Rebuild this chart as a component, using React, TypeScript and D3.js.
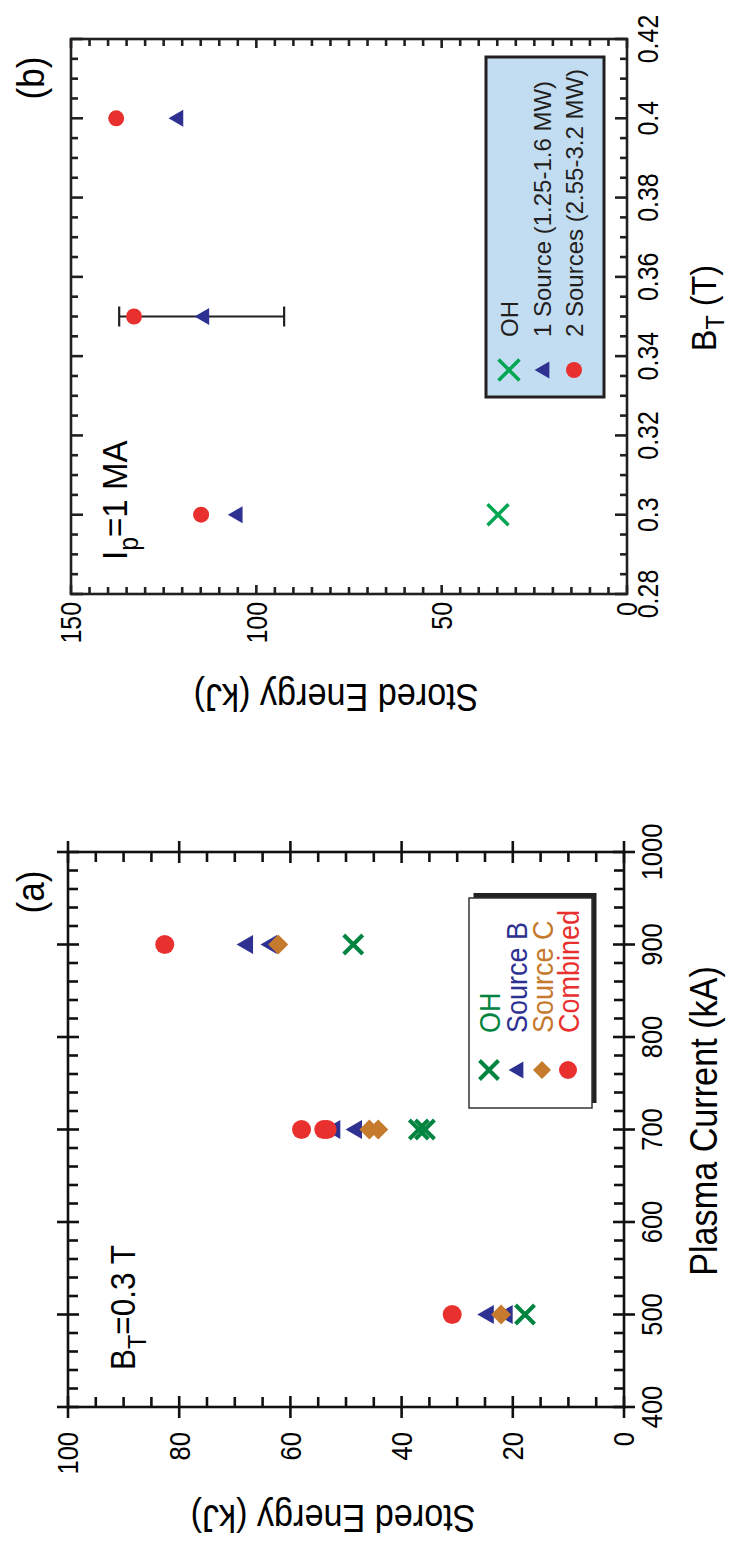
import React, { useEffect, useRef } from "react";
import * as d3 from "d3";

const W = 729;
const H = 1543;
const FONT = "'Liberation Sans', Arial, Helvetica, sans-serif";

// panel (a): B_T = 0.3 T, stored energy (kJ) vs plasma current (kA)
const currentTicks = [400, 500, 600, 700, 800, 900, 1000];
const energyTicksA = [0, 20, 40, 60, 80, 100];
const ohA = [[500, 17.8], [700, 36.9], [700, 35.8], [900, 48.7]];
const sourceBA = [[500, 24.9], [500, 21.5], [700, 52.5], [700, 48.6], [900, 68.2], [900, 63.9]];
const sourceCA = [[500, 22.1], [700, 45.8], [700, 44.2], [900, 62.2]];
const combinedA = [[500, 30.9], [700, 58.0], [700, 54.0], [700, 53.4], [900, 82.6]];
const legendA = ["OH", "Source B", "Source C", "Combined"];

// panel (b): I_p = 1 MA, stored energy (kJ) vs B_T (T)
const fieldTicks = [0.28, 0.3, 0.32, 0.34, 0.36, 0.38, 0.4, 0.42];
const energyTicksB = [0, 50, 100, 150];
const ohB = [[0.3, 34.8]];
const oneSourceB = [[0.3, 105.7], [0.35, 114.7], [0.4, 121.7]];
const twoSourcesB = [[0.3, 114.9], [0.35, 133.0], [0.4, 137.8]];
const errorBarsB = [[0.35, 92.5, 137.0]];
const legendB = ["OH", "1 Source (1.25-1.6 MW)", "2 Sources (2.55-3.2 MW)"];

const GREEN_A = "#00843f";
const GREEN_B = "#00a651";
const BLUE = "#2e3192";
const ORANGE = "#c67a2d";
const RED = "#e8312f";

const triPath = (s) => {
  const h = s * 0.866;
  return `M0,${-h / 2}L${s / 2},${h / 2}L${-s / 2},${h / 2}Z`;
};
const diamondPath = (d) => `M0,${-d}L${d},0L0,${d}L${-d},0Z`;
const crossPath = (a) => `M${-a},${-a}L${a},${a}M${-a},${a}L${a},${-a}`;

function text(g, str, x, y, o: any = {}) {
  const t = g
    .append("text")
    .attr("transform", `translate(${x},${y}) rotate(${o.rot || 0}) scale(${o.sx ?? 0.9},1)`)
    .attr("font-family", FONT)
    .attr("font-size", o.size || 29)
    .attr("fill", o.fill || "#000")
    .attr("text-anchor", o.anchor || "start");
  if (o.dy) t.attr("dy", o.dy);
  if (str !== null) t.text(str);
  return t;
}

// frame with ticks on all four sides
function frame(g, x, y, o) {
  const [u0, u1] = x.range();
  const [v1, v0] = y.range();
  const line = (a, b, c, d) =>
    g.append("line").attr("x1", a).attr("y1", b).attr("x2", c).attr("y2", d)
      .attr("stroke", o.color).attr("stroke-width", o.lw);
  const xMaj = o.xMajor.map((d) => x(d));
  const yMaj = o.yMajor.map((d) => y(d));
  const near = (arr, p) => arr.some((q) => Math.abs(q - p) < 0.5);
  x.ticks(o.xMinorCount).forEach((d) => {
    const u = x(d);
    const major = near(xMaj, u);
    const inn = major ? o.xIn : o.minorIn;
    const out = major ? o.out : 0;
    line(u, v1 + out, u, v1 - inn);
    line(u, v0 - out, u, v0 + inn);
  });
  y.ticks(o.yMinorCount).forEach((d) => {
    const v = y(d);
    const major = near(yMaj, v);
    const inn = major ? o.yIn : o.minorIn;
    const out = major ? o.out : 0;
    line(u0 - out, v, u0 + inn, v);
    line(u1 + out, v, u1 - inn, v);
  });
  g.append("rect").attr("x", u0).attr("y", v0).attr("width", u1 - u0).attr("height", v1 - v0)
    .attr("fill", "none").attr("stroke", o.color).attr("stroke-width", o.lw);
}

function markers(g, pts, x, y, kind, color, size, sw = 4) {
  const sel = g.selectAll(null).data(pts).join("path")
    .attr("transform", (d) => `translate(${x(d[0])},${y(d[1])})`);
  if (kind === "x") {
    sel.attr("d", crossPath(size)).attr("fill", "none").attr("stroke", color).attr("stroke-width", sw);
  } else if (kind === "tri") {
    sel.attr("d", triPath(size)).attr("fill", color);
  } else if (kind === "dia") {
    sel.attr("d", diamondPath(size)).attr("fill", color);
  } else {
    sel.attr("d", d3.symbol(d3.symbolCircle, Math.PI * size * size)()).attr("fill", color);
  }
}

export default function App() {
  const svgRef = useRef(null);

  useEffect(() => {
    const svg = d3.select(svgRef.current);
    svg.selectAll("*").remove();
    // the figure is drawn landscape and turned a quarter turn counter-clockwise
    const root = svg.append("g").attr("transform", `translate(0,${H}) rotate(-90)`);

    // ---------- panel (a) ----------
    const gA = root.append("g");
    const xA = d3.scaleLinear().domain([400, 1000]).range([136, 691]);
    const yA = d3.scaleLinear().domain([0, 100]).range([624, 68]);

    markers(gA, ohA, xA, yA, "x", GREEN_A, 9.5, 4);
    markers(gA, sourceBA, xA, yA, "tri", BLUE, 19);
    markers(gA, sourceCA, xA, yA, "dia", ORANGE, 10);
    markers(gA, combinedA, xA, yA, "circle", RED, 9.5);

    frame(gA, xA, yA, {
      color: "#111", lw: 2.6, xMajor: currentTicks, yMajor: energyTicksA,
      xMinorCount: 30, yMinorCount: 20, xIn: 11, yIn: 11, out: 11, minorIn: 10,
    });

    currentTicks.forEach((d) => text(gA, String(d), xA(d), 662, { anchor: "middle", size: 29, sx: 0.88 }));
    energyTicksA.forEach((d) => text(gA, String(d), 111, yA(d), { anchor: "end", size: 29, sx: 0.88, dy: "0.36em" }));

    text(gA, "Plasma Current (kA)", 422, 717, { anchor: "middle", size: 38, sx: 0.9 });
    text(gA, "Stored Energy (kJ)", 38, 333, { anchor: "middle", size: 38, sx: 0.9, rot: -90 });
    text(gA, "(a)", 651, 43.5, { anchor: "middle", size: 39, sx: 0.9 });

    const bt = text(gA, null, 173, 135, { size: 35, sx: 0.9 });
    bt.append("tspan").text("B");
    bt.append("tspan").attr("font-size", 26).attr("dy", 11).text("T");
    bt.append("tspan").attr("dy", -11).text("=0.3 T");

    // legend (a) with drop shadow
    const lgA = gA.append("g");
    lgA.append("rect").attr("x", 440).attr("y", 473.5).attr("width", 210).attr("height", 123).attr("fill", "#222");
    lgA.append("rect").attr("x", 435).attr("y", 469).attr("width", 210).attr("height", 123)
      .attr("fill", "#fff").attr("stroke", "#333").attr("stroke-width", 1.5);
    const rowsA = [489, 516, 542, 568];
    const colorsA = [GREEN_A, BLUE, ORANGE, RED];
    const kindsA = ["x", "tri", "dia", "circle"];
    const sizesA = [9.5, 17, 9, 9];
    legendA.forEach((name, i) => {
      const one = d3.scaleLinear().domain([0, 1]).range([473, 473]);
      const vy = d3.scaleLinear().domain([0, 1]).range([rowsA[i], rowsA[i]]);
      markers(lgA, [[0, 0]], one, vy, kindsA[i], colorsA[i], sizesA[i], 4);
      text(lgA, name, 510, rowsA[i], { size: 30, sx: 0.9, fill: colorsA[i], dy: "0.36em" });
    });

    // ---------- panel (b) ----------
    const gB = root.append("g");
    const xB = d3.scaleLinear().domain([0.28, 0.42]).range([949, 1504]);
    const yB = d3.scaleLinear().domain([0, 150]).range([627, 71]);

    gB.selectAll(null).data(errorBarsB).join("path")
      .attr("d", (d) => `M${xB(d[0])},${yB(d[1])}V${yB(d[2])}M${xB(d[0]) - 10},${yB(d[1])}h20M${xB(d[0]) - 10},${yB(d[2])}h20`)
      .attr("stroke", "#231f20").attr("stroke-width", 2.2).attr("fill", "none");

    markers(gB, ohB, xB, yB, "x", GREEN_B, 10.5, 3.5);
    markers(gB, oneSourceB, xB, yB, "tri", BLUE, 17);
    markers(gB, twoSourcesB, xB, yB, "circle", RED, 8);

    frame(gB, xB, yB, {
      color: "#231f20", lw: 2.6, xMajor: fieldTicks, yMajor: energyTicksB,
      xMinorCount: 28, yMinorCount: 30, xIn: 12, yIn: 9, out: 0, minorIn: 7,
    });

    fieldTicks.forEach((d) => text(gB, String(+d.toFixed(2)), xB(d), 658, { anchor: "middle", size: 29, sx: 0.86 }));
    energyTicksB.forEach((d) => text(gB, String(d), 941, yB(d), { anchor: "end", size: 29, sx: 0.86, dy: "0.36em" }));

    const bx = text(gB, null, 1235, 716, { anchor: "middle", size: 36, sx: 0.9 });
    bx.append("tspan").text("B");
    bx.append("tspan").attr("font-size", 26).attr("dy", 8).text("T");
    bx.append("tspan").attr("dy", -8).text(" (T)");
    text(gB, "Stored Energy (kJ)", 859, 336, { anchor: "middle", size: 38, sx: 0.9, rot: -90 });
    text(gB, "(b)", 1465, 43.5, { anchor: "middle", size: 39, sx: 0.9 });

    const ip = text(gB, null, 983, 127, { size: 36, sx: 0.92 });
    ip.append("tspan").text("I");
    ip.append("tspan").attr("font-size", 27).attr("dy", 11).text("p");
    ip.append("tspan").attr("dy", -11).text("=1 MA");

    // legend (b)
    const lgB = gB.append("g");
    lgB.append("rect").attr("x", 1146).attr("y", 486).attr("width", 340).attr("height", 118)
      .attr("fill", "#c2ddf2").attr("stroke", "#231f20").attr("stroke-width", 3);
    const rowsB = [509, 542, 574];
    const colorsB = [GREEN_B, BLUE, RED];
    const kindsB = ["x", "tri", "circle"];
    const sizesB = [10.5, 17, 8];
    legendB.forEach((name, i) => {
      const one = d3.scaleLinear().domain([0, 1]).range([1173, 1173]);
      const vy = d3.scaleLinear().domain([0, 1]).range([rowsB[i], rowsB[i]]);
      markers(lgB, [[0, 0]], one, vy, kindsB[i], colorsB[i], sizesB[i], 3.5);
      text(lgB, name, 1206, rowsB[i], { size: 24, sx: 1, fill: "#231f20", dy: "0.36em" });
    });
  }, []);

  return (
    <svg
      ref={svgRef}
      width={W}
      height={H}
      style={{ position: "absolute", left: 0, top: 0, background: "#fff" }}
    />
  );
}
